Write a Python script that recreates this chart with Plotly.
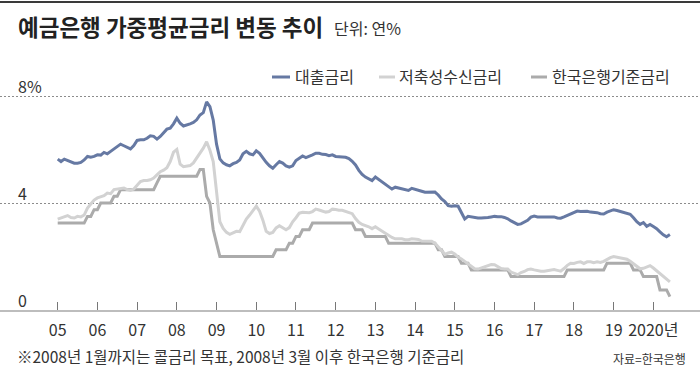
import plotly.graph_objects as go

# ---------------- data (monthly, Jan 2005 - Jun 2020) ----------------
start_year = 2005
year_ticks = [2005, 2006, 2007, 2008, 2009, 2010, 2011, 2012, 2013, 2014,
              2015, 2016, 2017, 2018, 2019, 2020]
tick_labels = ["05", "06", "07", "08", "09", "10", "11", "12", "13", "14",
               "15", "16", "17", "18", "19", "2020년"]
y_labels = [(8, "8%"), (4, "4"), (0, "0")]

loan_rate = [  # 대출금리
    5.64, 5.55, 5.64, 5.59, 5.52, 5.49, 5.49, 5.52, 5.61, 5.74, 5.71, 5.74,
    5.80, 5.79, 5.89, 5.84, 5.93, 6.01, 6.11, 6.20, 6.14, 6.07, 6.02, 6.15,
    6.34, 6.36, 6.36, 6.42, 6.51, 6.49, 6.39, 6.49, 6.63, 6.76, 6.80, 6.96,
    7.17, 6.98, 6.88, 6.91, 6.96, 7.01, 7.11, 7.29, 7.38, 7.78, 7.60, 7.10,
    6.20, 5.65, 5.50, 5.43, 5.39, 5.47, 5.52, 5.61, 5.84, 5.93, 5.84, 5.80,
    5.95, 5.86, 5.68, 5.52, 5.39, 5.30, 5.43, 5.55, 5.49, 5.39, 5.34, 5.39,
    5.59, 5.68, 5.76, 5.70, 5.74, 5.80, 5.86, 5.86, 5.82, 5.81, 5.77, 5.80,
    5.74, 5.74, 5.72, 5.71, 5.66, 5.56, 5.42, 5.22, 5.07, 4.97, 4.89, 4.84,
    4.97, 4.88, 4.76, 4.69, 4.58, 4.52, 4.59, 4.56, 4.53, 4.50, 4.47, 4.55,
    4.52, 4.48, 4.44, 4.40, 4.41, 4.41, 4.41, 4.30, 4.15, 4.05, 3.90, 3.88,
    3.90, 3.88, 3.65, 3.40, 3.50, 3.48, 3.45, 3.44, 3.44, 3.44, 3.46, 3.48,
    3.50, 3.49, 3.49, 3.46, 3.41, 3.33, 3.25, 3.20, 3.22, 3.28, 3.35, 3.47,
    3.51, 3.48, 3.48, 3.48, 3.49, 3.49, 3.48, 3.44, 3.43, 3.48, 3.53, 3.60,
    3.65, 3.70, 3.68, 3.68, 3.69, 3.66, 3.65, 3.64, 3.60, 3.59, 3.66, 3.72,
    3.75, 3.72, 3.69, 3.66, 3.63, 3.58, 3.45, 3.30, 3.20, 3.27, 3.13, 3.20,
    3.12, 3.04, 2.92, 2.81, 2.74, 2.82,
]

deposit_rate = [  # 저축성수신금리
    3.40, 3.44, 3.48, 3.53, 3.46, 3.44, 3.50, 3.48, 3.55, 3.81, 3.96, 4.11,
    4.19, 4.22, 4.27, 4.37, 4.35, 4.50, 4.52, 4.52, 4.56, 4.50, 4.47, 4.52,
    4.68, 4.80, 4.84, 4.84, 4.87, 4.93, 5.05, 5.17, 5.23, 5.32, 5.55, 5.90,
    6.00, 5.45, 5.36, 5.39, 5.40, 5.50, 5.68, 5.88, 6.05, 6.29, 5.97, 5.55,
    4.40, 3.30, 3.05, 2.90, 2.83, 2.90, 2.94, 2.93, 3.15, 3.40, 3.55, 3.72,
    3.88, 3.69, 3.36, 2.94, 2.86, 2.90, 3.07, 3.15, 3.08, 3.00, 3.08, 3.30,
    3.45, 3.62, 3.65, 3.65, 3.64, 3.68, 3.77, 3.74, 3.70, 3.66, 3.68, 3.77,
    3.76, 3.73, 3.73, 3.69, 3.64, 3.60, 3.42, 3.28, 3.20, 3.16, 3.11, 3.04,
    3.11, 3.03, 2.95, 2.87, 2.78, 2.71, 2.66, 2.66, 2.66, 2.63, 2.63, 2.66,
    2.66, 2.64, 2.58, 2.57, 2.57, 2.57, 2.50, 2.35, 2.19, 2.08, 2.13, 2.16,
    2.09, 1.98, 1.91, 1.82, 1.71, 1.62, 1.54, 1.53, 1.57, 1.61, 1.66, 1.70,
    1.69, 1.61, 1.55, 1.53, 1.53, 1.42, 1.36, 1.32, 1.40, 1.44, 1.51, 1.53,
    1.50, 1.47, 1.45, 1.45, 1.47, 1.48, 1.51, 1.48, 1.45, 1.55, 1.67, 1.75,
    1.74, 1.78, 1.80, 1.74, 1.80, 1.80, 1.77, 1.80, 1.78, 1.82, 1.90, 1.96,
    2.00, 1.97, 1.94, 1.93, 1.90, 1.82, 1.72, 1.62, 1.54, 1.56, 1.62, 1.66,
    1.57, 1.47, 1.35, 1.24, 1.14, 1.05,
]

base_rate = [  # 한국은행기준금리 (2008년 1월까지 콜금리 목표)
    3.25, 3.25, 3.25, 3.25, 3.25, 3.25, 3.25, 3.25, 3.25, 3.50, 3.50, 3.75,
    3.75, 4.00, 4.00, 4.00, 4.00, 4.25, 4.25, 4.50, 4.50, 4.50, 4.50, 4.50,
    4.50, 4.50, 4.50, 4.50, 4.50, 4.50, 4.75, 5.00, 5.00, 5.00, 5.00, 5.00,
    5.00, 5.00, 5.00, 5.00, 5.00, 5.00, 5.00, 5.25, 5.25, 4.25, 4.00, 3.00,
    2.50, 2.00, 2.00, 2.00, 2.00, 2.00, 2.00, 2.00, 2.00, 2.00, 2.00, 2.00,
    2.00, 2.00, 2.00, 2.00, 2.00, 2.00, 2.25, 2.25, 2.25, 2.25, 2.50, 2.50,
    2.75, 2.75, 3.00, 3.00, 3.00, 3.25, 3.25, 3.25, 3.25, 3.25, 3.25, 3.25,
    3.25, 3.25, 3.25, 3.25, 3.25, 3.25, 3.00, 3.00, 3.00, 2.75, 2.75, 2.75,
    2.75, 2.75, 2.75, 2.75, 2.50, 2.50, 2.50, 2.50, 2.50, 2.50, 2.50, 2.50,
    2.50, 2.50, 2.50, 2.50, 2.50, 2.50, 2.50, 2.25, 2.25, 2.00, 2.00, 2.00,
    2.00, 2.00, 1.75, 1.75, 1.75, 1.50, 1.50, 1.50, 1.50, 1.50, 1.50, 1.50,
    1.50, 1.50, 1.50, 1.50, 1.50, 1.25, 1.25, 1.25, 1.25, 1.25, 1.25, 1.25,
    1.25, 1.25, 1.25, 1.25, 1.25, 1.25, 1.25, 1.25, 1.25, 1.25, 1.50, 1.50,
    1.50, 1.50, 1.50, 1.50, 1.50, 1.50, 1.50, 1.50, 1.50, 1.50, 1.75, 1.75,
    1.75, 1.75, 1.75, 1.75, 1.75, 1.75, 1.50, 1.50, 1.50, 1.25, 1.25, 1.25,
    1.25, 1.25, 0.75, 0.75, 0.75, 0.50,
]

series_names = ["대출금리", "저축성수신금리", "한국은행기준금리"]
series_colors = ["#6679a3", "#d2d2d2", "#ababab"]

# month positions as decimal years
x_months = [start_year + i / 12 for i in range(len(loan_rate))]

# ---------------- layout geometry (pixels) ----------------
W, H = 700, 374
TOP, BOTTOM = 80, 310          # plot area top / bottom in px
PX_PER_PCT = (310 - 96) / 8    # y scale
X0_PX, PX_PER_YEAR = 57.7, 39.71
FONT = "Noto Sans CJK KR"


def px_x(p):
    return p / W


def px_y(p):
    return (BOTTOM - p) / (BOTTOM - TOP)


fig = go.Figure()
for vals, name, color in [(base_rate, series_names[2], series_colors[2]),
                          (deposit_rate, series_names[1], series_colors[1]),
                          (loan_rate, series_names[0], series_colors[0])]:
    fig.add_trace(go.Scatter(x=x_months, y=vals, mode="lines", name=name,
                             line=dict(color=color, width=3),
                             showlegend=False, hoverinfo="skip"))

x_lo = 2005 - X0_PX / PX_PER_YEAR
x_hi = 2005 + (W - X0_PX) / PX_PER_YEAR
y_hi = (BOTTOM - TOP) / PX_PER_PCT

fig.update_layout(
    width=W, height=H,
    margin=dict(l=0, r=0, t=TOP, b=H - BOTTOM, pad=0),
    paper_bgcolor="white", plot_bgcolor="white",
    font=dict(family=FONT, color="#333", size=15),
    xaxis=dict(range=[x_lo, x_hi], tickvals=year_ticks, ticktext=tick_labels,
               ticks="inside", ticklen=8, tickwidth=1, tickcolor="#777",
               showline=True, linecolor="#bdbdbd", linewidth=2,
               showgrid=False, zeroline=False,
               tickfont=dict(size=16, color="#333"), ticklabelstandoff=5),
    yaxis=dict(range=[0, y_hi], tickvals=[4, 8], showticklabels=False,
               showgrid=True, gridcolor="#8c8c8c", griddash="2px,2px",
               gridwidth=1, zeroline=False, showline=False),
)

annotations = []
# title
annotations.append(dict(x=px_x(16), y=px_y(26), xref="paper", yref="paper",
                        text="<b>예금은행 가중평균금리 변동 추이</b>",
                        showarrow=False, xanchor="left", yanchor="middle",
                        font=dict(size=22.5, color="#222", family=FONT)))
annotations.append(dict(x=px_x(332), y=px_y(28), xref="paper", yref="paper",
                        text="단위: 연%", showarrow=False,
                        xanchor="left", yanchor="middle",
                        font=dict(size=16, color="#333", family=FONT)))

# legend (manual)
legend_items = [(272, 290, 293), (379, 395, 397), (531, 547, 550)]
shapes = []
for (x_a, x_b, x_t), name, color in zip(legend_items, series_names, series_colors):
    shapes.append(dict(type="line", xref="paper", yref="paper",
                       x0=px_x(x_a), x1=px_x(x_b), y0=px_y(77), y1=px_y(77),
                       line=dict(color=color, width=3)))
    annotations.append(dict(x=px_x(x_t), y=px_y(76), xref="paper", yref="paper",
                            text=name, showarrow=False,
                            xanchor="left", yanchor="middle",
                            font=dict(size=16, color="#333", family=FONT)))

# y labels above gridlines
for val, lab in y_labels:
    annotations.append(dict(x=px_x(16), y=val, xref="paper", yref="y",
                            text=lab, showarrow=False, xanchor="left",
                            yanchor="middle", yshift=10,
                            font=dict(size=16, color="#333", family=FONT)))

# footnote and source
annotations.append(dict(x=px_x(15), y=px_y(356), xref="paper", yref="paper",
                        text="※2008년 1월까지는 콜금리 목표, 2008년 3월 이후 한국은행 기준금리",
                        showarrow=False, xanchor="left", yanchor="middle",
                        font=dict(size=15.5, color="#333", family=FONT)))
annotations.append(dict(x=px_x(688), y=px_y(358), xref="paper", yref="paper",
                        text="자료=한국은행", showarrow=False,
                        xanchor="right", yanchor="middle",
                        font=dict(size=12, color="#333", family=FONT)))

# top border rule
shapes.append(dict(type="line", xref="paper", yref="paper",
                   x0=0, x1=1, y0=px_y(2), y1=px_y(2),
                   line=dict(color="#3a3a3a", width=2)))

fig.update_layout(annotations=annotations, shapes=shapes)

fig.write_html("out.html",
               config={"displayModeBar": False},
               post_script="document.body.style.margin='0';document.body.style.padding='0';")
